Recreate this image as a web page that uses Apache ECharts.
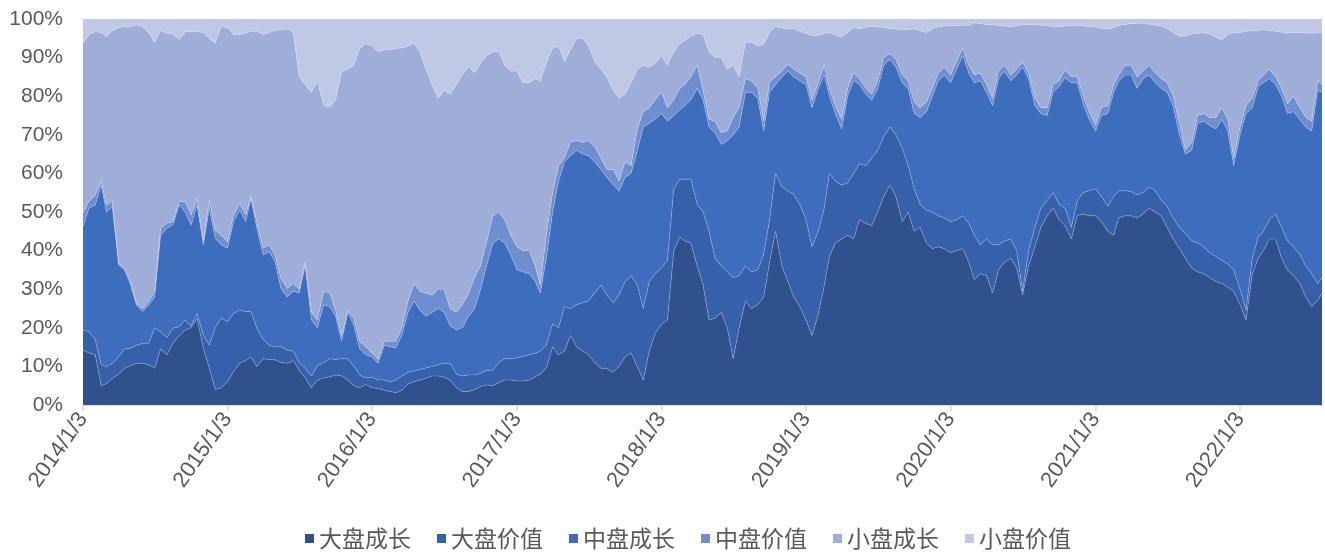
<!DOCTYPE html>
<html>
<head>
<meta charset="utf-8">
<title>风格占比</title>
<script src="https://cdn.jsdelivr.net/npm/echarts@6/dist/echarts.min.js"></script>
<style>
  html, body { margin: 0; padding: 0; background: #fff; }
  #main { width: 1325px; height: 552px; }
</style>
</head>
<body>
<div id="main"></div>
<script>
// 半月取样的日期
const dates = [
  '2014/1/3','2014/1/18','2014/2/3','2014/2/18','2014/3/3','2014/3/18','2014/4/3','2014/4/18','2014/5/3','2014/5/18','2014/6/3','2014/6/18','2014/7/3','2014/7/18','2014/8/3','2014/8/18','2014/9/3','2014/9/18','2014/10/3','2014/10/18','2014/11/3','2014/11/18','2014/12/3','2014/12/18',
  '2015/1/3','2015/1/18','2015/2/3','2015/2/18','2015/3/3','2015/3/18','2015/4/3','2015/4/18','2015/5/3','2015/5/18','2015/6/3','2015/6/18','2015/7/3','2015/7/18','2015/8/3','2015/8/18','2015/9/3','2015/9/18','2015/10/3','2015/10/18','2015/11/3','2015/11/18','2015/12/3','2015/12/18',
  '2016/1/3','2016/1/18','2016/2/3','2016/2/18','2016/3/3','2016/3/18','2016/4/3','2016/4/18','2016/5/3','2016/5/18','2016/6/3','2016/6/18','2016/7/3','2016/7/18','2016/8/3','2016/8/18','2016/9/3','2016/9/18','2016/10/3','2016/10/18','2016/11/3','2016/11/18','2016/12/3','2016/12/18',
  '2017/1/3','2017/1/18','2017/2/3','2017/2/18','2017/3/3','2017/3/18','2017/4/3','2017/4/18','2017/5/3','2017/5/18','2017/6/3','2017/6/18','2017/7/3','2017/7/18','2017/8/3','2017/8/18','2017/9/3','2017/9/18','2017/10/3','2017/10/18','2017/11/3','2017/11/18','2017/12/3','2017/12/18',
  '2018/1/3','2018/1/18','2018/2/3','2018/2/18','2018/3/3','2018/3/18','2018/4/3','2018/4/18','2018/5/3','2018/5/18','2018/6/3','2018/6/18','2018/7/3','2018/7/18','2018/8/3','2018/8/18','2018/9/3','2018/9/18','2018/10/3','2018/10/18','2018/11/3','2018/11/18','2018/12/3','2018/12/18',
  '2019/1/3','2019/1/18','2019/2/3','2019/2/18','2019/3/3','2019/3/18','2019/4/3','2019/4/18','2019/5/3','2019/5/18','2019/6/3','2019/6/18','2019/7/3','2019/7/18','2019/8/3','2019/8/18','2019/9/3','2019/9/18','2019/10/3','2019/10/18','2019/11/3','2019/11/18','2019/12/3','2019/12/18',
  '2020/1/3','2020/1/18','2020/2/3','2020/2/18','2020/3/3','2020/3/18','2020/4/3','2020/4/18','2020/5/3','2020/5/18','2020/6/3','2020/6/18','2020/7/3','2020/7/18','2020/8/3','2020/8/18','2020/9/3','2020/9/18','2020/10/3','2020/10/18','2020/11/3','2020/11/18','2020/12/3','2020/12/18',
  '2021/1/3','2021/1/18','2021/2/3','2021/2/18','2021/3/3','2021/3/18','2021/4/3','2021/4/18','2021/5/3','2021/5/18','2021/6/3','2021/6/18','2021/7/3','2021/7/18','2021/8/3','2021/8/18','2021/9/3','2021/9/18','2021/10/3','2021/10/18','2021/11/3','2021/11/18','2021/12/3','2021/12/18',
  '2022/1/3','2022/1/18','2022/2/3','2022/2/18','2022/3/3','2022/3/18','2022/4/3','2022/4/18','2022/5/3','2022/5/18','2022/6/3','2022/6/18','2022/7/3','2022/7/18','2022/7/29'
];

// 各风格累计占比的上沿（%）
const largeGrowthTop = [
  14.2,13.5,13,5,5.5,6.9,8,9.5,10.2,10.8,10.8,10.4,9.5,14.5,13,16,18,19.4,20,22.5,14.7,9.5,4,4.5,
  6,8.6,10.8,11.5,12.5,10,12,11.8,11.7,11,10.8,11.5,9,7,4.5,6.5,7,7.3,7.8,7.5,6.5,5,4.5,5.3,
  4.5,4.3,3.8,3.5,3.2,3.8,5.5,6,6.5,6.9,7.5,7.5,7.2,6.5,4.5,3.5,3.5,4,4.8,5.2,5,5.8,6.5,6.5,
  6.2,6.2,6.5,7.3,8,9.5,15,13,14,18,15,14,13,11,9.5,9.5,8.5,10,12.5,13.5,10,6.5,14,18.5,
  21,22,40,43.5,42.5,42,36,31,22,22.5,24,20,12,20,27,25,26,28,37,45,36,32,28,25.5,
  22,18,23.5,31,38.5,42,43,44,43,48,47,46.5,50,54,57,54,47.5,50,45,46,42,40.5,41,40.5,
  39.5,40,40.5,37,32.5,34,33.5,29,35,37,38,35.5,28.5,36,41,46,49,51,48,46.5,43,49,49.5,49,
  49,47.5,45,44,48.5,49,49,48.5,49.5,51,50,49,46,43,40.5,38,35.5,34.5,34,33,32,31.5,30.5,29.5,
  26,22,34,38,40,43,43,38,35,33.5,31.5,28,25.5,27,29
];
const largeValueTop = [
  19.4,19,17,10.4,9.9,10.8,12.5,14.5,14.7,15.5,16,16,20,19,17.5,19.9,20.3,22,20.5,23.7,18.1,15.5,20,22.5,
  21.6,23.7,24.6,24.2,24.2,19.9,17,15.5,15,15.1,14.2,14,11,9.5,7.5,10.2,11,12,11.8,12,12,10,7.8,7,
  7.2,6.5,6.5,6,6.5,7.5,8.5,8.8,9.2,9.6,10,10.4,10.8,10.8,8,7.5,7.8,7.8,8.2,9,9,11,12,12,
  12.2,12.6,13,13.4,14,15.5,21,20,25.5,25,26,26.5,27,29,31,28.5,26.5,28.5,32,33.5,31,25,32,34,
  35.5,37.5,56,58.5,58.5,58.5,52,50,45,38,36,34.5,33,33.5,36,34.5,35,39,48,60,56.5,55.5,54.5,52,
  48,41,45,51,60,58,57,57.5,60,62.5,62,64,66,69.5,72,70,66.5,62,56,52,50.5,50,49,48.5,
  47.5,48,49,47,44,41.5,43,41.5,41.5,42.5,43,40,29.5,40,46,51,53,55,52,51,46,53,55,55.5,
  56,54,51.5,54,55.5,55.5,55.3,54.5,55,56.5,55.5,53,51.5,48.5,46,44.5,42.5,42,41,39.5,38.5,37.5,36.5,35,
  30,24.5,38,43.5,45,48,49.5,46,42.5,41,39,36,34,31.5,33
];
const midGrowthTop = [
  46.2,51,51.8,57,50,51.4,36.3,35,31.1,25.9,24.2,25.9,28,44,45.8,46.6,51.8,50,46.6,51.8,41.5,51,43.2,41.5,
  40.6,47.5,50.5,47.5,53.5,45.8,38.9,39.7,37.1,30.2,28,29.5,29,36,22,20,26,25.5,23,16.5,24,20.5,14.5,13,
  12.5,10.8,15.5,15,14.8,18,24,27,24.5,23,24,25,24,20.5,19.5,20,23,25,30,36,42,43,42,39,
  35,34.5,34,32,29,38,50,58,63,64.5,66,65,64.5,63,61,59,57,55.5,59,60,66,72,73,74,
  75.5,73.5,75,76.5,77.5,79,82,79,72,70.5,67.5,68.5,70,72,81,81,79.5,71,81,83,85,86.5,85,84,
  83,77,82,85.5,80,75.5,71.5,80,84,83,80.5,79,82,88,89.5,87.5,83.5,82,75.5,74.5,76,80,84,85.5,
  83.5,87,90.5,86,83.5,84,81,77.5,84.5,86.5,84,85.5,87.5,84.5,77.5,75.5,75,81,82.5,84.8,83.5,83.5,78,74,
  71,75,75.5,81,84,85.5,85.5,82,84.5,85.5,83.5,82,81,77.5,70,65,66,73,73.5,72.5,71.5,74,71,62,
  70,75.5,77,82.5,83.5,84.5,83,80,75.5,76,74,72,71,81.5,81
];
const midValueTop = [
  49.7,52.7,54.4,58,51.8,52.7,36.7,35.4,32,26.3,25,26.8,29.4,45.8,47.1,47.5,52.7,52.7,49.2,53.5,42.3,53,45.3,44,
  42.3,49.2,52.2,49.2,54,47.5,40.6,41.5,38.9,32.8,30.2,31.5,30,37,24,22,29.5,29,24.5,18,24.5,22.5,16.5,15,
  13.5,11.8,16.5,16.5,16.5,20,27,31.5,29.4,29,28.5,30,30,25,24,26,29,33,36,42,49,50,48,44,
  41,40,40,36,31,44,55,62,64,68,68.5,68,68.5,67,64,61,61,58,63,62,71.5,76,77,79,
  81,77,79,82,83,85,88,81.5,74,73.5,70.5,71,74.5,77,84.5,84,82,73.5,83.8,85,86.5,88.3,87,86,
  85,79,83.5,88,82,77.5,74,82,86,84.5,82,80.5,84,90,91,89.5,85.5,84,78.5,77,78.5,82,86,87.5,
  85.5,89,92.4,88,85.5,86,83,79.4,86.5,88,85.5,87,88.8,86,79.5,77,77,83,84,86.8,85,85,80,76,
  72.5,77,77.5,83,85.5,88,88,85,86.5,88,86,84.6,83.5,80,73,66,68,75,75.5,74.5,74.5,77,74,64,
  72,77.5,79.5,84,85.5,87,85,82,78,80,77,74.5,73.5,84,83
];
const smallGrowthTop = [
  93.7,96,96.7,96.5,95.4,97,97.8,98,98,98.5,98,96.5,94,97,96.3,96,94.6,96.7,96.7,96.7,96.5,95,93.7,98,
  97.8,96,96,96.3,96.8,96.8,96,96.5,97,97.2,97.4,96.7,85,83,81,83.8,77.7,77.2,79,86.5,87,88,92.4,93.5,
  93,91.5,92,92,92.4,92.5,93,93.7,91.5,87,82.9,79.5,81.5,80.5,83,85.5,87.7,86,88.5,90.5,91.5,91.5,88,86.5,
  86.5,83.5,83.5,84.5,84,88.5,92.5,93,89,92,95,95,93,89,87,85,81.5,79.5,80.5,83.5,87,88,87.5,88.5,
  90.5,88,91.5,93.5,94.5,95.5,96.3,96,91.5,90,90,87,88,85,94,94,93,93.5,96.5,98,97.7,97.4,97.4,96.8,
  96.3,95.7,95.8,96.3,96.5,95.8,95.4,96.5,97.8,97.5,97.8,98.2,98,97.8,97.5,97.4,97.2,97.3,97.4,97,96.5,97.5,98,98.2,
  98.3,98.3,98.4,98.4,99,98.8,98.6,98.5,98.3,98.2,97.9,98.3,98.5,98.5,98.5,98.4,98.2,98.1,98,98.2,98.3,98.4,98.2,98,
  97.9,97.6,97.4,97.8,98.3,98.6,98.8,98.9,98.9,98.7,98.4,98.2,97.5,96.5,95.5,95.6,96.1,96.3,96.4,96.1,95.3,94.6,96,96.4,
  96.5,96.8,96.9,97,97.2,97,96.8,96.6,96.3,96.5,96.5,96.4,96.3,96.4,96.4
];

const names = ['大盘成长', '大盘价值', '中盘成长', '中盘价值', '小盘成长', '小盘价值'];
const colors = ['#2F528F', '#3760AA', '#3F6DBE', '#6F8ED0', '#9FADD9', '#BFC8E4'];
const yearTicks = ['2014/1/3','2015/1/3','2016/1/3','2017/1/3','2018/1/3','2019/1/3','2020/1/3','2021/1/3','2022/1/3'];

function toTime(s) {
  const p = s.split('/').map(Number);
  return Date.UTC(p[0], p[1] - 1, p[2]);
}
function fmtDate(v) {
  const d = new Date(v);
  return d.getUTCFullYear() + '/' + (d.getUTCMonth() + 1) + '/' + d.getUTCDate();
}

// 每种风格的占比 = 本层上沿 - 下一层上沿，最上一层补足到 100%
// 数据写成 [占比, 时间]，让堆叠落在占比这一维上
const tops = [largeGrowthTop, largeValueTop, midGrowthTop, midValueTop, smallGrowthTop];
const series = names.map((name, k) => {
  const data = dates.map((d, i) => {
    const hi = k < tops.length ? tops[k][i] : 100;
    const lo = k > 0 ? tops[k - 1][i] : 0;
    return [+(hi - lo).toFixed(2), toTime(d)];
  });
  return {
    name: name,
    type: 'line',
    stack: 'total',
    symbol: 'none',
    encode: { x: 1, y: 0 },
    data: data,
    itemStyle: { color: colors[k] },
    lineStyle: { width: k === 5 ? 0 : 0.7, color: 'rgba(255,255,255,0.3)' },
    areaStyle: { color: colors[k], opacity: 1 },
    emphasis: { disabled: true }
  };
});

const chart = echarts.init(document.getElementById('main'));
const tickTimes = yearTicks.map(toTime);
chart.setOption({
  animation: false,
  backgroundColor: '#fff',
  grid: { left: 83, right: 3, top: 19, bottom: 147 },
  legend: {
    data: names,
    left: 300,
    top: 522,
    icon: 'rect',
    itemWidth: 9,
    itemHeight: 9,
    itemGap: 26,
    textStyle: { fontSize: 23, color: '#595959', fontFamily: 'Noto Sans CJK SC' }
  },
  xAxis: {
    type: 'value',
    min: toTime(dates[0]),
    max: toTime(dates[dates.length - 1]),
    axisLine: { lineStyle: { color: '#D9D9D9', width: 1.5 } },
    axisTick: { length: 6, lineStyle: { color: '#D9D9D9', width: 1.5 }, customValues: tickTimes },
    axisLabel: {
      customValues: tickTimes,
      formatter: fmtDate,
      rotate: 55,
      margin: 10,
      fontSize: 22,
      color: '#595959',
      fontFamily: 'Liberation Sans'
    },
    splitLine: { show: false }
  },
  yAxis: {
    type: 'value',
    min: 0,
    max: 100,
    interval: 10,
    axisLine: { show: false },
    axisTick: { show: false },
    axisLabel: { formatter: '{value}%', fontSize: 21, color: '#595959', margin: 20, fontFamily: 'Liberation Sans' },
    splitLine: { lineStyle: { color: '#D9D9D9' } }
  },
  series: series
});
</script>
</body>
</html>
